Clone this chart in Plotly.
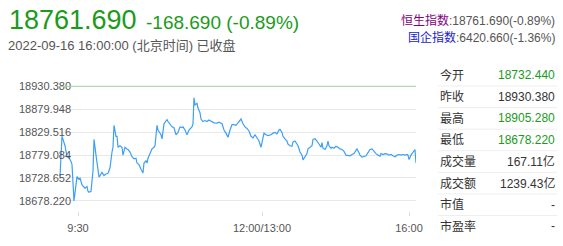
import plotly.graph_objects as go

# ---------------- data ----------------
slot = [0, 2, 3, 5, 7, 9, 11, 12, 14, 16, 17, 19, 20, 22, 23, 25, 27, 28, 29, 31,
        33, 34, 36, 38, 39, 40, 42, 44, 46, 48, 50, 52, 53, 54, 56, 57, 58, 60, 62, 63,
        65, 67, 68, 70, 72, 74, 76, 77, 79, 81, 83, 84, 86, 87, 88, 90, 92, 94, 95, 97,
        98, 101, 102, 104, 107, 108, 110, 112, 114, 116, 118, 120, 122, 123, 125, 127, 129, 132, 133, 134,
        135, 137, 138, 140, 141, 143, 145, 147, 149, 152, 154, 157, 159, 162, 164, 166, 168, 170, 172, 174,
        176, 178, 181, 183, 185, 187, 189, 191, 193, 195, 197, 199, 201, 203, 204, 206, 208, 211, 213, 215,
        217, 219, 220, 222, 223, 225, 227, 228, 230, 232, 233, 235, 237, 238, 240, 242, 243, 245, 247, 248,
        250, 252, 253, 255, 257, 258, 260, 261, 262, 263, 265, 267, 268, 269, 271, 272, 274, 276, 278, 280,
        282, 284, 286, 288, 290, 292, 294, 296, 297, 299, 300, 302, 304, 306, 308, 310, 312, 314, 316, 318,
        320, 321, 323, 325, 327, 329, 331, 333, 335, 337, 339, 341, 343, 345, 347, 348, 349, 351, 353, 355,
        356]
price = [18732.4, 18820.4, 18813.5, 18799.6, 18775.4, 18773.3, 18765.1, 18758.1, 18678.2, 18709.7,
         18731.9, 18724.9, 18729.1, 18713.2, 18711.1, 18706.3, 18709.7, 18699.4, 18697.3, 18699.4,
         18744.3, 18813.5, 18778.9, 18744.3, 18730.5, 18733.9, 18740.8, 18733.9, 18737.4, 18738.8,
         18751.2, 18785.8, 18796.2, 18844.6, 18820.4, 18820.4, 18796.2, 18799.6, 18796.2, 18778.9,
         18796.2, 18792.7, 18791.3, 18785.8, 18775.4, 18770.6, 18772.0, 18761.6, 18758.1, 18747.8,
         18739.5, 18761.6, 18766.4, 18761.6, 18772.0, 18782.3, 18792.7, 18796.2, 18799.6, 18844.6,
         18834.2, 18823.8, 18814.9, 18848.1, 18857.1, 18852.9, 18848.1, 18841.1, 18839.1, 18823.8,
         18828.7, 18841.1, 18839.8, 18841.1, 18834.2, 18823.8, 18834.2, 18841.1, 18848.1, 18905.3,
         18889.6, 18893.0, 18882.6, 18872.3, 18858.4, 18852.9, 18855.0, 18852.9, 18856.4, 18851.5,
         18850.1, 18849.4, 18851.5, 18848.1, 18834.2, 18827.3, 18818.3, 18834.2, 18846.0, 18846.0,
         18844.6, 18850.1, 18858.4, 18848.1, 18841.1, 18837.7, 18832.2, 18820.4, 18816.9, 18823.8,
         18816.9, 18810.0, 18796.2, 18813.5, 18827.3, 18823.8, 18821.8, 18823.8, 18827.3, 18828.7,
         18825.9, 18834.2, 18835.6, 18828.7, 18820.4, 18814.9, 18810.0, 18803.1, 18799.6, 18798.3,
         18807.9, 18810.0, 18804.5, 18799.6, 18785.8, 18778.9, 18768.5, 18775.4, 18782.3, 18792.7,
         18796.2, 18799.6, 18813.5, 18814.9, 18810.0, 18806.6, 18799.6, 18796.2, 18806.6, 18794.1,
         18791.3, 18799.6, 18810.0, 18799.6, 18794.1, 18796.2, 18794.1, 18798.3, 18796.2, 18792.7,
         18791.3, 18787.2, 18778.9, 18778.9, 18777.5, 18780.3, 18782.3, 18789.3, 18792.7, 18784.4,
         18778.9, 18774.7, 18775.4, 18777.5, 18784.4, 18791.3, 18792.7, 18787.2, 18782.3, 18778.9,
         18776.8, 18782.3, 18780.3, 18782.3, 18781.6, 18778.9, 18780.3, 18777.5, 18775.4, 18778.9,
         18780.3, 18778.9, 18780.3, 18778.9, 18780.3, 18778.9, 18769.2, 18778.9, 18785.8, 18791.3,
         18761.69]

prev_close = 18930.380
y_tick_vals = [18930.380, 18879.948, 18829.516, 18779.084, 18728.652, 18678.220]
y_tick_text = ["18930.380", "18879.948", "18829.516", "18779.084", "18728.652", "18678.220"]
x_tick_vals = [18, 202, 349]
x_tick_text = ["9:30", "12:00/13:00", "16:00"]

last_price = "18761.690"
change_text = "-168.690 (-0.89%)"
time_text = "2022-09-16 16:00:00 (北京时间) 已收盘"
hsi_name, hsi_value = "恒生指数", ":18761.690(-0.89%)"
hscei_name, hscei_value = "国企指数", ":6420.660(-1.36%)"

table_labels = ["今开", "昨收", "最高", "最低", "成交量", "成交额", "市值", "市盈率"]
table_values = ["18732.440", "18930.380", "18905.280", "18678.220", "167.11亿", "1239.43亿", "-", "-"]
table_green = [True, False, True, True, False, False, False, False]

# ---------------- layout helpers ----------------
W, H = 563, 246
L, R, T, B = 59, 147, 80, 27
PW, PH = W - L - R, H - T - B
GREEN = "#1c9a1c"
GRAY = "#555555"
DARK = "#333333"
FONT = "Arial, 'Liberation Sans', 'Noto Sans CJK SC', sans-serif"


def px(x):
    return (x - L) / PW


def py(y):
    return (H - B - y) / PH


fig = go.Figure()
fig.add_trace(go.Scatter(x=slot, y=price, mode="lines",
                         line=dict(color="#3d9ff5", width=1.2),
                         hoverinfo="skip", showlegend=False))

# previous close line
fig.add_shape(type="line", xref="paper", yref="y", x0=0, x1=1,
              y0=prev_close, y1=prev_close, line=dict(color="#a6d2a0", width=1))

ann = []
ann.append(dict(text=last_price, x=px(6.5), y=py(16.5), xanchor="left", yanchor="middle",
                font=dict(size=27, color=GREEN)))
ann.append(dict(text=change_text, x=px(144), y=py(19.5), xanchor="left", yanchor="middle",
                font=dict(size=19, color=GREEN)))
ann.append(dict(text=time_text, x=px(6), y=py(43), xanchor="left", yanchor="middle",
                font=dict(size=13, color=GRAY)))
ann.append(dict(text=f"<span style='color:#800080'>{hsi_name}</span>{hsi_value}",
                x=px(557), y=py(17), xanchor="right", yanchor="middle",
                font=dict(size=12, color=GRAY)))
ann.append(dict(text=f"<span style='color:#1a1acc'>{hscei_name}</span>{hscei_value}",
                x=px(557), y=py(35), xanchor="right", yanchor="middle",
                font=dict(size=12, color=GRAY)))

for i, (lab, val, g) in enumerate(zip(table_labels, table_values, table_green)):
    yc = 75 + 22.9 * i
    ann.append(dict(text=lab, x=px(438), y=py(yc), xanchor="left", yanchor="middle",
                    font=dict(size=12, color=DARK)))
    ann.append(dict(text=val, x=px(557), y=py(yc), xanchor="right", yanchor="middle",
                    font=dict(size=12, color=GREEN if g else DARK)))
    if i < len(table_labels) - 1:
        ys = py(86.4 + 22.9 * i)
        fig.add_shape(type="line", xref="paper", yref="paper", x0=px(438), x1=px(557),
                      y0=ys, y1=ys, line=dict(color="#eeeeee", width=1))

for a in ann:
    a.update(xref="paper", yref="paper", showarrow=False)

fig.update_layout(
    width=W, height=H,
    margin=dict(l=L, r=R, t=T, b=B, pad=0),
    paper_bgcolor="white", plot_bgcolor="white",
    font=dict(family=FONT, size=11, color=GRAY),
    annotations=ann,
    xaxis=dict(range=[-1, 356], tickvals=x_tick_vals, ticktext=x_tick_text,
               showgrid=False, zeroline=False, showline=False,
               ticks="outside", ticklen=4, tickcolor="#dddddd",
               ticklabelstandoff=3,
               tickfont=dict(size=11, color=GRAY)),
    yaxis=dict(range=[18656.0, 18944.3], tickvals=y_tick_vals, ticktext=y_tick_text,
               showgrid=True, gridcolor="#e8e8e8", gridwidth=1, zeroline=False, showline=False,
               ticks="", ticklabelstandoff=-13,
               tickfont=dict(size=11, color=GRAY)),
)

fig.write_html("out.html")
